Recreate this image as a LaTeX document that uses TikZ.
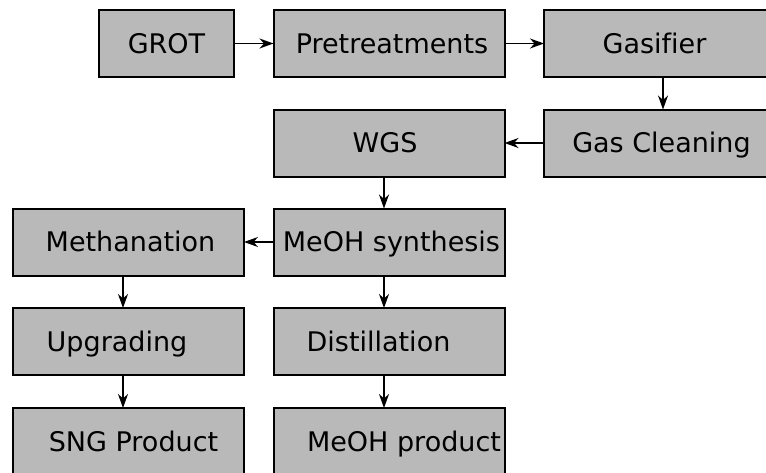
\documentclass[tikz,border=0pt]{standalone}
\usepackage{fontspec}
\setmainfont{DejaVu Sans}[Ligatures=NoCommon]
\usetikzlibrary{arrows.meta}
\definecolor{boxgray}{RGB}{185,185,185}
\tikzset{
  box/.style={draw=black, fill=boxgray, line width=2pt, minimum width=231pt,
    minimum height=67pt, inner sep=0pt, outer sep=0pt},
  txt/.style={inner sep=0pt, anchor=base, font=\fontsize{27}{32}\selectfont},
  arr/.style={line width=1.6pt, -{Stealth[length=14pt, width=10pt, inset=4.5pt]}}
}
\begin{document}
\begin{tikzpicture}[x=1pt, y=1pt]
  \useasboundingbox (0,0) rectangle (766,-472);
  \begin{scope}
    \clip (0,0) rectangle (766,-472);
    % process blocks
    \node[box, minimum width=135pt] (grot) at (166.5,-43.5) {};
    \node[box] (pre)  at (389,-43.5) {};
    \node[box] (gas)  at (659.5,-43.5) {};
    \node[box] (wgs)  at (389,-143) {};
    \node[box] (gcl)  at (659.5,-143) {};
    \node[box] (meth) at (128.5,-242) {};
    \node[box] (meoh) at (389,-242) {};
    \node[box] (upg)  at (128.5,-341.5) {};
    \node[box] (dist) at (389,-341.5) {};
    \node[box] (sng)  at (128.5,-441.5) {};
    \node[box] (mprod) at (389,-441.5) {};
    % block labels, baseline set half a cap height below the block centre
    \node[txt] (grotT)  at ([xshift=0pt,yshift=-9.8pt]grot.center) {GROT};
    \node[txt] (preT)   at ([xshift=3pt,yshift=-9.8pt]pre.center) {Pretreatments};
    \node[txt] (gasT)   at ([xshift=-5pt,yshift=-9.8pt]gas.center) {Gasifier};
    \node[txt] (wgsT)   at ([xshift=-4pt,yshift=-9.8pt]wgs.center) {WGS};
    \node[txt] (gclT)   at ([xshift=2pt,yshift=-9.8pt]gcl.center) {Gas Cleaning};
    \node[txt] (methT)  at ([xshift=2pt,yshift=-9.8pt]meth.center) {Methanation};
    \node[txt] (meohT)  at ([xshift=2.5pt,yshift=-9.8pt]meoh.center) {MeOH synthesis};
    \node[txt] (upgT)   at ([xshift=-11.5pt,yshift=-9.8pt]upg.center) {Upgrading};
    \node[txt] (distT)  at ([xshift=-10.5pt,yshift=-9.8pt]dist.center) {Distillation};
    \node[txt] (sngT)   at ([xshift=5pt,yshift=-9.8pt]sng.center) {SNG Product};
    \node[txt] (mprodT) at ([xshift=15pt,yshift=-9.8pt]mprod.center) {MeOH product};
  \end{scope}
  % flow connectors
  \draw[arr] (grot.east) -- (pre.west);
  \draw[arr] (pre.east) -- (gas.west);
  \draw[arr] ([xshift=3.5pt]gas.south) -- ([xshift=3.5pt]gcl.north);
  \draw[arr] (gcl.west) -- (wgs.east);
  \draw[arr] ([xshift=-5pt]wgs.south) -- ([xshift=-5pt]meoh.north);
  \draw[arr] (meoh.west) -- (meth.east);
  \draw[arr] ([xshift=-5.5pt]meth.south) -- ([xshift=-5.5pt]upg.north);
  \draw[arr] ([xshift=-5.5pt]upg.south) -- ([xshift=-5.5pt]sng.north);
  \draw[arr] ([xshift=-5pt]meoh.south) -- ([xshift=-5pt]dist.north);
  \draw[arr] ([xshift=-5pt]dist.south) -- ([xshift=-5pt]mprod.north);
\end{tikzpicture}
\end{document}
